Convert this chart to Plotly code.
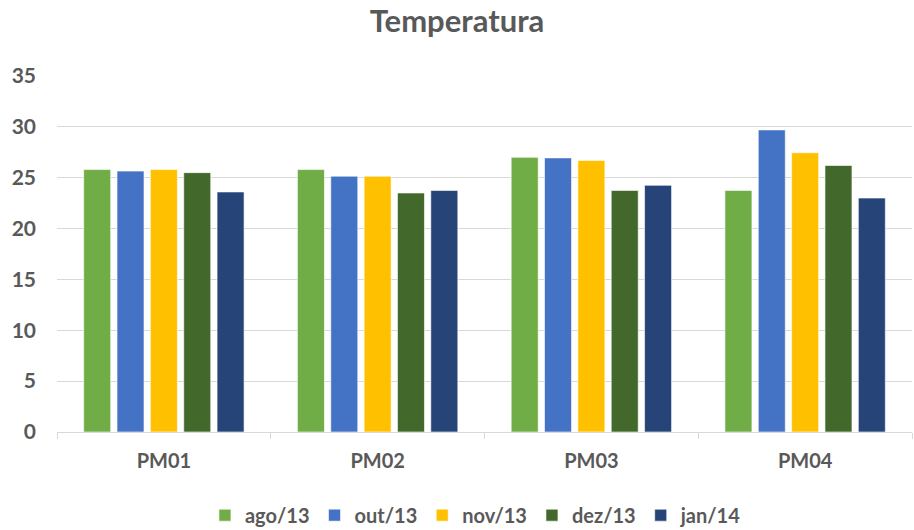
import plotly.graph_objects as go

categories = ["PM01", "PM02", "PM03", "PM04"]
series_names = ["ago/13", "out/13", "nov/13", "dez/13", "jan/14"]
ago13 = [25.8, 25.8, 27.0, 23.75]
out13 = [25.65, 25.15, 26.95, 29.7]
nov13 = [25.8, 25.15, 26.7, 27.45]
dez13 = [25.5, 23.5, 23.75, 26.2]
jan14 = [23.6, 23.75, 24.25, 23.0]
y_ticks = [0, 5, 10, 15, 20, 25, 30, 35]

values = [ago13, out13, nov13, dez13, jan14]
colors = ["#70AD47", "#4472C4", "#FFC000", "#43682B", "#264478"]

FONT = "Lato"
GRAY = "#595959"

fig = go.Figure()
for name, vals, col in zip(series_names, values, colors):
    fig.add_trace(go.Bar(
        x=categories, y=vals, name=name,
        marker=dict(color=col, line=dict(color="rgba(255,255,255,0.6)", width=1)),
    ))

fig.update_layout(
    width=914, height=530,
    paper_bgcolor="white", plot_bgcolor="white",
    margin=dict(l=57, r=2, t=76, b=98),
    barmode="group", bargap=0.22, bargroupgap=0.19,
    title=dict(text="<b>Temperatura</b>", x=0.5, xanchor="center", y=0.96, yanchor="middle",
               font=dict(family=FONT, size=31, color=GRAY)),
    font=dict(family=FONT, color=GRAY),
    legend=dict(orientation="h", x=0.49, xanchor="center", yref="container", y=0.028, yanchor="middle",
                font=dict(family=FONT, size=20, color=GRAY, weight="bold"),
                itemwidth=30, traceorder="normal"),
    xaxis=dict(
        showgrid=False, showline=True, linecolor="#d9d9d9", linewidth=1,
        ticks="outside", tickson="boundaries", ticklen=6, tickcolor="#d9d9d9",
        tickfont=dict(family=FONT, size=20, color=GRAY, weight="bold"),
        ticklabelstandoff=11,
    ),
    yaxis=dict(
        range=[0, 35], tickvals=y_ticks, showgrid=True, gridcolor="#d9d9d9", gridwidth=1,
        zeroline=False, showline=False,
        tickfont=dict(family=FONT, size=21, color=GRAY, weight="bold"),
        ticklabelstandoff=20,
    ),
)

fig.write_html("out.html", config={"displayModeBar": False},
               post_script="document.body.style.margin='0';")
